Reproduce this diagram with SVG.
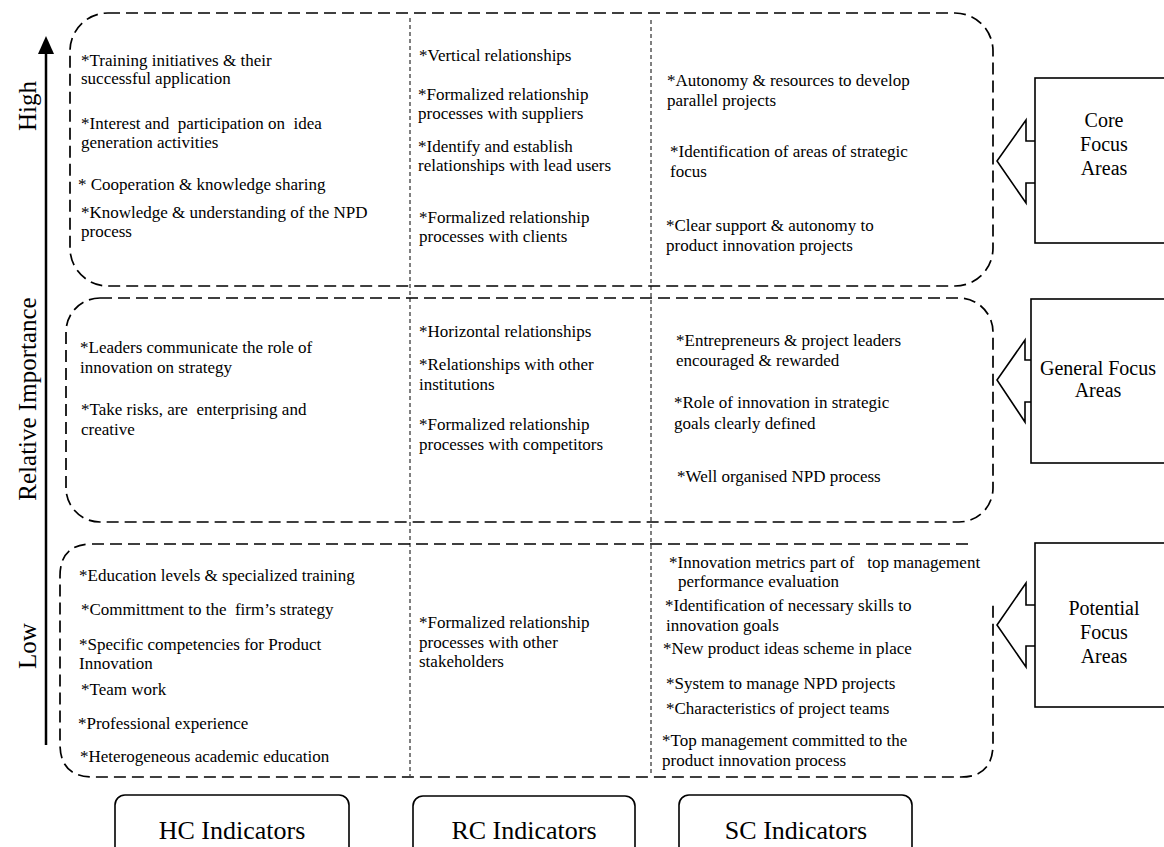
<svg xmlns="http://www.w3.org/2000/svg" width="1164" height="847" viewBox="0 0 1164 847">
<style>
text{font-family:"Liberation Serif","Times New Roman",serif;fill:#000;white-space:pre}
.t{font-size:17px}
.lbl{font-size:20px;text-anchor:middle}
.ax{font-size:25px;text-anchor:middle}
.ind{font-size:26px;text-anchor:middle}
.dash{fill:none;stroke:#000;stroke-width:1.7;stroke-dasharray:12 6}
.div{fill:none;stroke:#000;stroke-width:1;stroke-dasharray:4 3}
.box{fill:#fff;stroke:#000;stroke-width:1.6}
.arr{fill:#fff;stroke:#000;stroke-width:1.6;stroke-linejoin:miter}
</style>
<rect width="1164" height="847" fill="#fff"/>

<g id="connectors">
<line x1="46" y1="745" x2="46" y2="52" stroke="#000" stroke-width="2.5"/>
<path d="M38,54 L46,36 L54,54 Z" fill="#000"/>
<line class="div" x1="410" y1="18" x2="410" y2="776"/>
<line class="div" x1="651" y1="20" x2="651" y2="776"/>
</g>

<g id="band-core">
<rect class="dash" x="70" y="13" width="923" height="273" rx="38" ry="38"/>
</g>
<g id="band-general">
<rect class="dash" x="66" y="298" width="927" height="224" rx="34" ry="34"/>
</g>
<g id="band-potential">
<path class="dash" d="M968,544 L92,544 Q60,544 60,576 L60,744 Q60,777 93,777 L961,777 Q993,777 993,744 L993,603"/>
</g>

<g id="axis-labels">
<text class="ax" transform="translate(36,106) rotate(-90)">High</text>
<text class="ax" transform="translate(36,399) rotate(-90)">Relative Importance</text>
<text class="ax" transform="translate(36,646) rotate(-90)">Low</text>
</g>

<g id="core-hc">
<text class="t" x="81" y="66">*Training initiatives &amp; their</text>
<text class="t" x="81" y="84">successful application</text>
<text class="t" x="81" y="129">*Interest and  participation on  idea</text>
<text class="t" x="81" y="148">generation activities</text>
<text class="t" x="78" y="190">* Cooperation &amp; knowledge sharing</text>
<text class="t" x="81" y="218">*Knowledge &amp; understanding of the NPD</text>
<text class="t" x="81" y="237">process</text>
</g>
<g id="core-rc">
<text class="t" x="419" y="61">*Vertical relationships</text>
<text class="t" x="418" y="100">*Formalized relationship</text>
<text class="t" x="418" y="119">processes with suppliers</text>
<text class="t" x="418" y="152">*Identify and establish</text>
<text class="t" x="418" y="171">relationships with lead users</text>
<text class="t" x="419" y="223">*Formalized relationship</text>
<text class="t" x="419" y="242">processes with clients</text>
</g>
<g id="core-sc">
<text class="t" x="667" y="86">*Autonomy &amp; resources to develop</text>
<text class="t" x="667" y="106">parallel projects</text>
<text class="t" x="670" y="157">*Identification of areas of strategic</text>
<text class="t" x="670" y="177">focus</text>
<text class="t" x="666" y="231">*Clear support &amp; autonomy to</text>
<text class="t" x="666" y="251">product innovation projects</text>
</g>

<g id="general-hc">
<text class="t" x="80" y="353">*Leaders communicate the role of</text>
<text class="t" x="80" y="373">innovation on strategy</text>
<text class="t" x="81" y="415">*Take risks, are  enterprising and</text>
<text class="t" x="81" y="435">creative</text>
</g>
<g id="general-rc">
<text class="t" x="419" y="337">*Horizontal relationships</text>
<text class="t" x="419" y="370">*Relationships with other</text>
<text class="t" x="419" y="390">institutions</text>
<text class="t" x="419" y="430">*Formalized relationship</text>
<text class="t" x="419" y="450">processes with competitors</text>
</g>
<g id="general-sc">
<text class="t" x="676" y="346">*Entrepreneurs &amp; project leaders</text>
<text class="t" x="676" y="366">encouraged &amp; rewarded</text>
<text class="t" x="674" y="408">*Role of innovation in strategic</text>
<text class="t" x="674" y="429">goals clearly defined</text>
<text class="t" x="677" y="482">*Well organised NPD process</text>
</g>

<g id="potential-hc">
<text class="t" x="79" y="581">*Education levels &amp; specialized training</text>
<text class="t" x="81" y="615">*Committment to the  firm’s strategy</text>
<text class="t" x="79" y="650">*Specific competencies for Product</text>
<text class="t" x="79" y="669">Innovation</text>
<text class="t" x="81" y="695">*Team work</text>
<text class="t" x="78" y="729">*Professional experience</text>
<text class="t" x="80" y="762">*Heterogeneous academic education</text>
</g>
<g id="potential-rc">
<text class="t" x="419" y="628">*Formalized relationship</text>
<text class="t" x="419" y="648">processes with other</text>
<text class="t" x="419" y="667">stakeholders</text>
</g>
<g id="potential-sc">
<text class="t" x="669" y="568">*Innovation metrics part of   top management</text>
<text class="t" x="678" y="587">performance evaluation</text>
<text class="t" x="665" y="611">*Identification of necessary skills to</text>
<text class="t" x="666" y="631">innovation goals</text>
<text class="t" x="663" y="654">*New product ideas scheme in place</text>
<text class="t" x="666" y="689">*System to manage NPD projects</text>
<text class="t" x="666" y="714">*Characteristics of project teams</text>
<text class="t" x="662" y="746">*Top management committed to the</text>
<text class="t" x="662" y="766">product innovation process</text>
</g>

<g id="core-focus">
<polygon class="arr" points="1036,141 1026,141 1026,120 997,161 1026,203 1026,183 1036,183"/>
<rect class="box" x="1035" y="78" width="140" height="165"/>
<text class="lbl" x="1104" y="127">Core</text>
<text class="lbl" x="1104" y="151">Focus</text>
<text class="lbl" x="1104" y="175">Areas</text>
</g>
<g id="general-focus">
<polygon class="arr" points="1032,360 1025,360 1025,340 997,380 1025,422 1025,402 1032,402"/>
<rect class="box" x="1031" y="299" width="144" height="164"/>
<text class="lbl" x="1098" y="375">General Focus</text>
<text class="lbl" x="1098" y="397">Areas</text>
</g>
<g id="potential-focus">
<polygon class="arr" points="1036,605 1026,605 1026,583 997,625 1026,667 1026,646 1036,646"/>
<rect class="box" x="1035" y="543" width="140" height="164"/>
<text class="lbl" x="1104" y="615">Potential</text>
<text class="lbl" x="1104" y="639">Focus</text>
<text class="lbl" x="1104" y="663">Areas</text>
</g>

<g id="hc-indicators">
<rect class="box" x="115" y="795" width="234" height="70" rx="10" ry="10"/>
<text class="ind" x="232" y="839">HC Indicators</text>
</g>
<g id="rc-indicators">
<rect class="box" x="413" y="796" width="222" height="70" rx="10" ry="10"/>
<text class="ind" x="524" y="839">RC Indicators</text>
</g>
<g id="sc-indicators">
<rect class="box" x="679" y="795" width="233" height="70" rx="10" ry="10"/>
<text class="ind" x="796" y="839">SC Indicators</text>
</g>
</svg>
